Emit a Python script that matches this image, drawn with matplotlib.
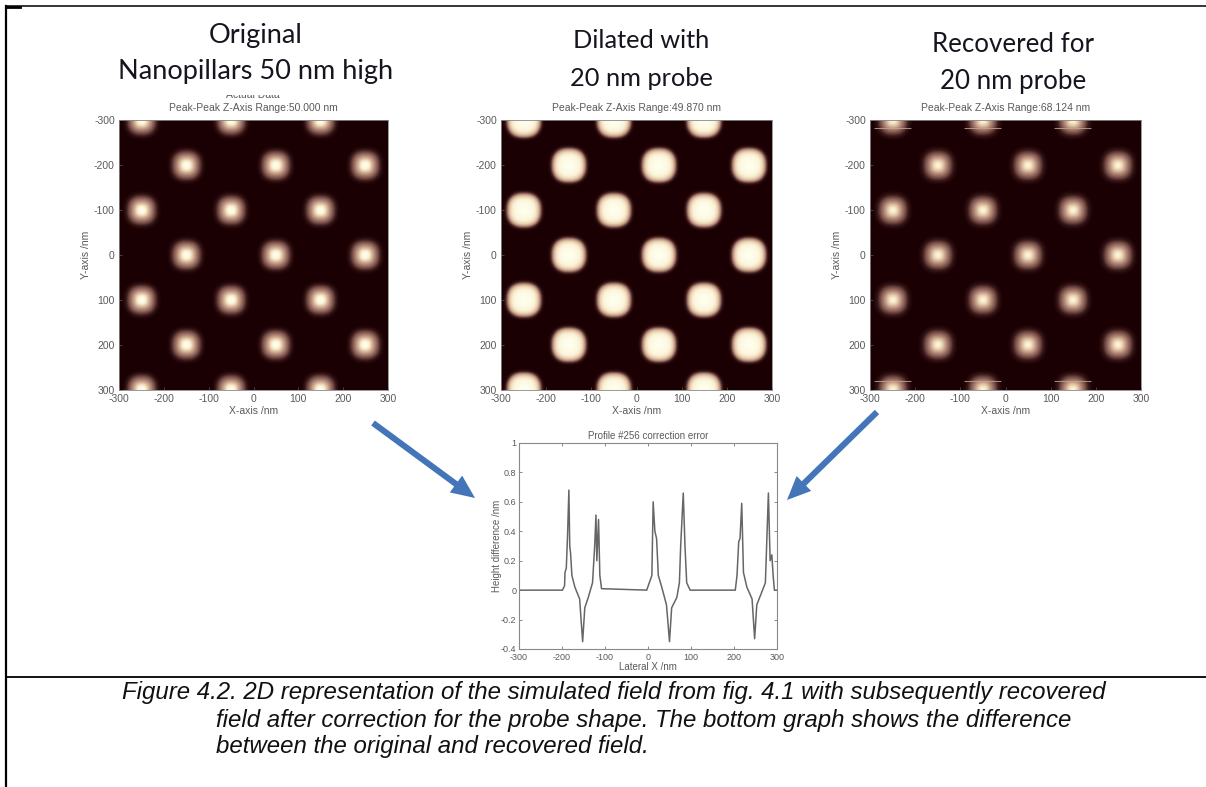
import numpy as np
import matplotlib
matplotlib.use("Agg")
import matplotlib.pyplot as plt
from matplotlib.colors import LinearSegmentedColormap
from matplotlib.lines import Line2D
from matplotlib.patches import FancyArrowPatch, Rectangle

plt.rcParams["axes.unicode_minus"] = False

W, H = 1206, 787

# ---- data ----
pillar_x = [-250, -50, 150, -150, 50, 250]
pillar_rows_a = [-300, -100, 100, 300]   # rows holding x = -250, -50, 150
pillar_rows_b = [-200, 0, 200]           # rows holding x = -150, 50, 250
tick_vals = [-300, -200, -100, 0, 100, 200, 300]

radius_nm = [0, 5, 10, 15, 20, 25, 30, 35, 40, 45, 50]
height_original = [1.0, 0.93, 0.78, 0.62, 0.50, 0.39, 0.28, 0.16, 0.04, 0, 0]
height_dilated = [1.0, 0.99, 0.97, 0.93, 0.88, 0.81, 0.70, 0.52, 0.22, 0.02, 0]
height_recovered = [0.86, 0.81, 0.69, 0.57, 0.46, 0.36, 0.26, 0.15, 0.05, 0, 0]

panel_titles = ["Peak-Peak Z-Axis Range:50.000 nm",
                "Peak-Peak Z-Axis Range:49.870 nm",
                "Peak-Peak Z-Axis Range:68.124 nm"]
panel_heads = [["Original", "Nanopillars 50 nm high"],
               ["Dilated with", "20 nm probe"],
               ["Recovered for", "20 nm probe"]]

profile_x = [-300, -199, -194, -193, -190, -187, -184, -182, -180, -177, -170, -159, -152,
             -147, -139, -129, -124, -121, -119, -115, -112, -108, -3, 9, 12, 16, 20, 24, 32,
             43, 50, 55, 67, 73, 76, 82, 86, 90, 98, 203, 207, 211, 214, 218, 222, 230, 242,
             248, 253, 261, 273, 277, 280, 284, 288, 291, 294, 298, 300]
profile_y = [0, 0, 0.03, 0.12, 0.15, 0.38, 0.68, 0.30, 0.25, 0.10, 0.02, -0.06, -0.35,
             -0.12, -0.05, 0.05, 0.30, 0.51, 0.20, 0.48, 0.10, 0.01, 0, 0.10, 0.60, 0.40, 0.35, 0.10, 0.02,
             -0.10, -0.35, -0.12, -0.05, 0.05, 0.30, 0.66, 0.30, 0.05, 0, 0, 0.10, 0.33, 0.35, 0.59, 0.12, 0.02, -0.06,
             -0.33, -0.10, -0.04, 0.05, 0.40, 0.66, 0.20, 0.24, 0.10, 0, 0, 0]
profile_yticks = [-0.4, -0.2, 0, 0.2, 0.4, 0.6, 0.8, 1]
profile_ytick_labels = ["-0.4", "-0.2", "0", "0.2", "0.4", "0.6", "0.8", "1"]

caption = ["Figure 4.2. 2D representation of the simulated field from fig. 4.1 with subsequently recovered",
           "field after correction for the probe shape. The bottom graph shows the difference",
           "between the original and recovered field."]

# ---- styles ----
GREY = "#5a5a5a"
SANS = "Liberation Sans"
cmap = LinearSegmentedColormap.from_list(
    "afm", ["#1b0003", "#3a1a1a", "#80564e", "#b8907f", "#e6c9a8", "#fbf3d8", "#ffffee"])


def axes_px(l, t, r, b):
    return [l / W, 1 - b / H, (r - l) / W, (b - t) / H]


def fx(x):
    return x / W


def fy(y):
    return 1 - y / H


def field(profile, artefact=False):
    axis = np.linspace(-300, 300, 301)
    xx, yy = np.meshgrid(axis, axis)
    z = np.zeros_like(xx)
    centres = [(x, y) for x in pillar_x[:3] for y in pillar_rows_a]
    centres += [(x, y) for x in pillar_x[3:] for y in pillar_rows_b]
    for cx, cy in centres:
        dx, dy = np.abs(xx - cx), np.abs(yy - cy)
        d = (dx ** 2.4 + dy ** 2.4) ** (1 / 2.4)
        z = np.maximum(z, np.interp(d, radius_nm, profile))
    if artefact:
        for cx in pillar_x[:3]:
            for row in (-282, 282):
                mask = (np.abs(yy - row) < 1.2) & (np.abs(xx - cx) < 42)
                z[mask] = np.maximum(z[mask], 0.55)
    return axis, z


fig = plt.figure(figsize=(W / 100, H / 100), dpi=100, facecolor="white")

# frame rules
for (x0, y0, x1, y1, lw) in [(6, 6, W, 6, 1.1), (6, 7, 20, 7, 2.0), (6, 6, 6, H, 1.6), (6, 677, W, 677, 1.3)]:
    fig.add_artist(Line2D([fx(x0), fx(x1)], [fy(y0), fy(y1)], color="black", lw=lw,
                          transform=fig.transFigure))

rects = [(119, 120, 388, 390), (501, 120, 772, 390), (870, 120, 1141, 390)]
profiles = [height_original, height_dilated, height_recovered]
head_centres = [256, 641, 1013]
head_y = [[36, 72], [41, 78], [44, 81]]
head_sizes = [19.5, 18.3, 18.6]

for i, rect in enumerate(rects):
    ax = fig.add_axes(axes_px(*rect))
    axis, z = field(profiles[i], artefact=(i == 2))
    ax.imshow(z, extent=[-300, 300, 300, -300], cmap=cmap, vmin=0, vmax=1,
              aspect="auto", interpolation="bilinear")
    ax.set_xticks(tick_vals)
    ax.set_yticks(tick_vals)
    ax.tick_params(labelsize=7.5, colors=GREY, direction="in", length=2, width=0.5, pad=3)
    for s in ax.spines.values():
        s.set_color("#888888")
        s.set_linewidth(0.6)
    ax.set_xlabel("X-axis /nm", fontsize=7.5, color=GREY, family=SANS, labelpad=1)
    ax.set_ylabel("Y-axis /nm", fontsize=7.5, color=GREY, family=SANS, labelpad=2)
    for lb in ax.get_xticklabels() + ax.get_yticklabels():
        lb.set_family(SANS)
    ax.set_title(panel_titles[i], fontsize=7.5, color=GREY, family=SANS, pad=6.5)
    for line, y in zip(panel_heads[i], head_y[i]):
        fig.text(fx(head_centres[i]), fy(y), line, ha="center", va="center",
                 family="Lato", fontsize=head_sizes[i], color="#15151f")

# clipped "Actual Data" heading on the first panel
fig.text(fx(253), fy(95), "Actual Data", ha="center", va="center", family=SANS,
         fontsize=7.5, color=GREY, zorder=3)
fig.add_artist(Rectangle((fx(170), fy(94.5)), (340 - 170) / W, 8 / H, transform=fig.transFigure,
                         facecolor="white", edgecolor="none", zorder=4))

# profile
ax = fig.add_axes(axes_px(519, 443, 777, 649))
ax.plot(profile_x, profile_y, color="#666666", lw=1.1)
ax.set_xlim(-300, 300)
ax.set_ylim(-0.4, 1)
ax.set_xticks(tick_vals)
ax.set_yticks(profile_yticks)
ax.set_yticklabels(profile_ytick_labels)
ax.tick_params(labelsize=6.5, colors=GREY, direction="in", length=2, width=0.5,
               top=True, right=True)
ax.tick_params(axis="x", pad=3)
ax.tick_params(axis="y", pad=2)
for lb in ax.get_xticklabels() + ax.get_yticklabels():
    lb.set_family(SANS)
for s in ax.spines.values():
    s.set_color("#888888")
    s.set_linewidth(0.8)
ax.set_xlabel("Lateral X /nm", fontsize=7, color=GREY, family=SANS, labelpad=0)
ax.set_ylabel("Height difference /nm", fontsize=7, color=GREY, family=SANS, labelpad=-1)
ax.set_title("Profile #256 correction error", fontsize=7, color=GREY, family=SANS, pad=3)

# arrows
for start, end in [((373, 423), (475, 498)), ((877, 412), (787, 500))]:
    fig.add_artist(FancyArrowPatch(
        (fx(start[0]), fy(start[1])), (fx(end[0]), fy(end[1])), transform=fig.transFigure,
        arrowstyle="simple,tail_width=0.22,head_width=0.75,head_length=0.85",
        mutation_scale=20, lw=0, color="#4375b8", shrinkA=0, shrinkB=0))

# caption
for line, x, y in zip(caption, (122, 216, 216), (692, 720, 747)):
    fig.text(fx(x), fy(y), line, ha="left", va="center", family=SANS, style="italic",
             fontsize=17.3, color="#111111")

fig.savefig("out.png", dpi=100)
